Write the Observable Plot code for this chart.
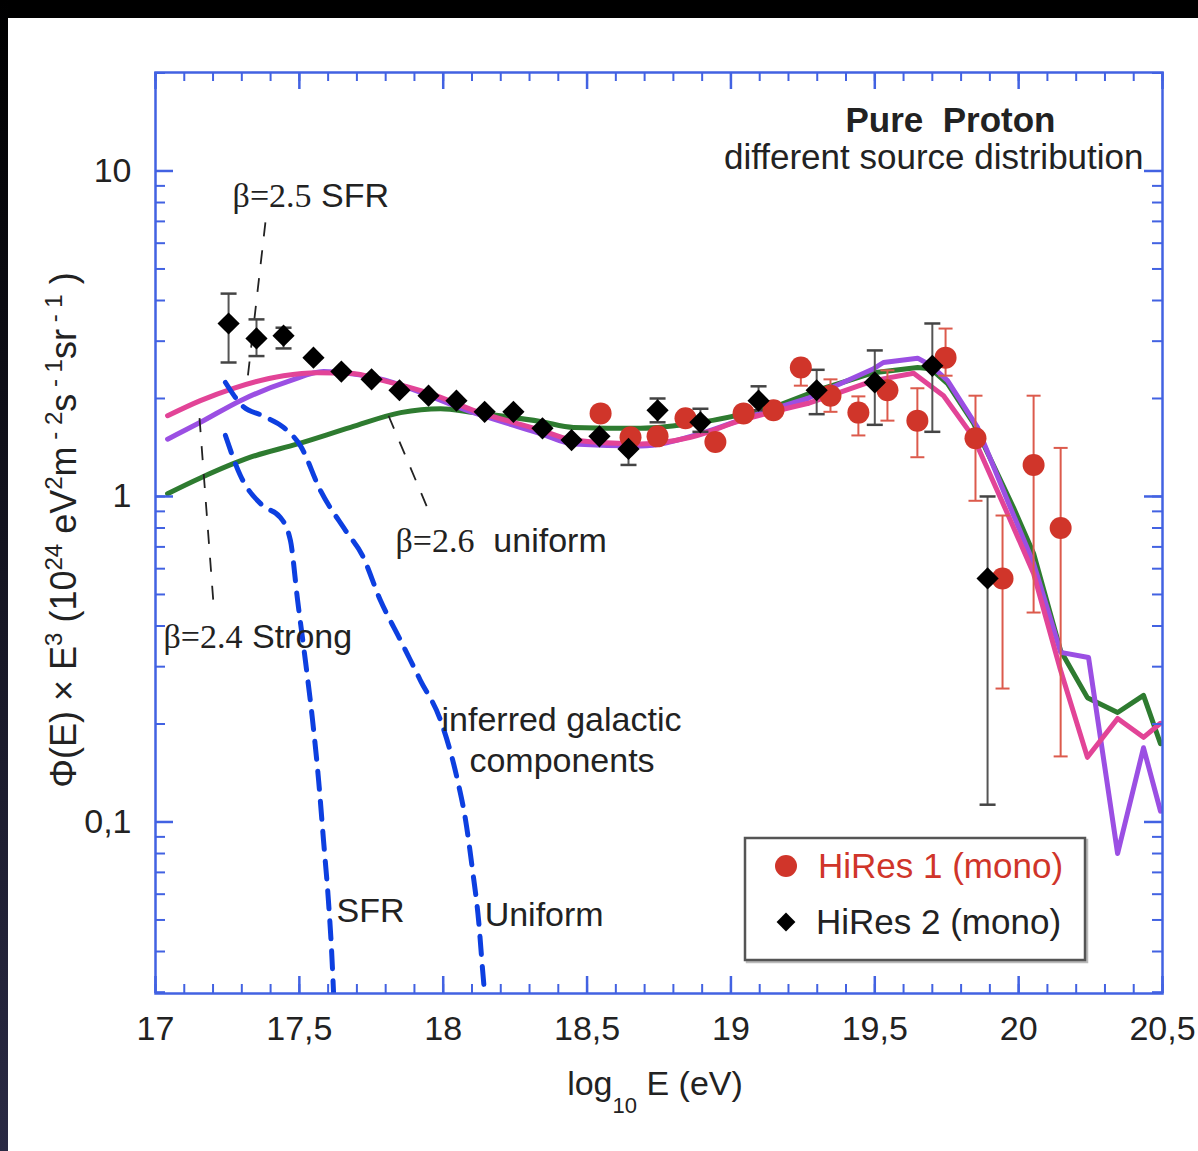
<!DOCTYPE html>
<html><head><meta charset="utf-8">
<script src="https://cdn.jsdelivr.net/npm/d3@7"></script>
<script src="https://cdn.jsdelivr.net/npm/@observablehq/plot@0.6"></script>
<style>
body{margin:0;background:#fff;width:1198px;height:1151px;overflow:hidden;position:relative;font-family:"Liberation Sans",Arial,sans-serif}
#chart{position:absolute;left:0;top:0}
#topbar{position:absolute;left:0;top:0;width:1198px;height:18px;background:#000}
#leftbar{position:absolute;left:0;top:0;width:8px;height:1151px;background:linear-gradient(#000,#2a2a44)}
</style></head><body>
<div id="chart"></div><div id="topbar"></div><div id="leftbar"></div>
<script>
// ---------- data ----------
const xTickLabels = [17, 17.5, 18, 18.5, 19, 19.5, 20, 20.5];
const yTickLabels = [0.1, 1, 10];

// HiRes 2 (mono) - black diamonds
const hires2X  = [17.254,17.351,17.445,17.549,17.646,17.751,17.848,17.949,18.046,18.144,18.244,18.345,18.446,18.543,18.644,18.745,18.894,19.096,19.298,19.500,19.700,19.892];
const hires2Y  = [3.40,3.06,3.12,2.67,2.42,2.29,2.12,2.04,1.97,1.82,1.82,1.62,1.49,1.53,1.40,1.84,1.69,1.97,2.12,2.24,2.52,0.56];
const hires2Hi = [4.20,3.50,3.30,null,null,null,null,null,null,null,null,null,null,null,1.52,2.00,1.86,2.18,2.45,2.81,3.40,1.00];
const hires2Lo = [2.58,2.70,2.85,null,null,null,null,null,null,null,null,null,null,null,1.25,1.69,1.58,1.84,1.79,1.66,1.58,0.113];

// HiRes 1 (mono) - red circles
const hires1X  = [18.547,18.651,18.745,18.842,18.946,19.044,19.148,19.243,19.346,19.443,19.544,19.648,19.746,19.850,19.944,20.052,20.146];
const hires1Y  = [1.80,1.52,1.53,1.74,1.47,1.80,1.84,2.49,2.04,1.81,2.12,1.71,2.67,1.51,0.56,1.25,0.80];
const hires1Hi = [null,null,null,null,null,null,null,2.62,2.29,2.03,2.44,2.15,3.28,2.04,0.874,2.04,1.41];
const hires1Lo = [null,null,null,null,null,null,null,2.19,1.82,1.54,1.71,1.32,2.35,0.97,0.257,0.44,0.159];

// model curves
const greenX  = [17.042,17.156,17.330,17.494,17.678,17.852,17.991,18.105,18.338,18.453,18.686,18.894,19.148,19.301,19.496,19.649,19.694,19.753,19.843,19.982,20.052,20.146,20.239,20.344,20.434,20.493];
const greenY  = [1.02,1.14,1.32,1.45,1.63,1.81,1.86,1.81,1.70,1.63,1.62,1.69,1.88,2.12,2.40,2.49,2.47,2.22,1.68,0.925,0.668,0.336,0.241,0.217,0.245,0.174];
const pinkX   = [17.042,17.156,17.271,17.445,17.563,17.678,17.792,17.956,18.105,18.338,18.453,18.686,18.860,19.033,19.266,19.496,19.635,19.739,19.843,19.961,20.052,20.146,20.239,20.344,20.434,20.493];
const pinkY   = [1.77,1.97,2.15,2.35,2.40,2.39,2.27,2.07,1.84,1.60,1.49,1.45,1.52,1.71,1.93,2.27,2.39,2.04,1.52,0.887,0.580,0.292,0.158,0.208,0.182,0.201];
const purpleX = [17.042,17.156,17.295,17.469,17.584,17.758,18.105,18.338,18.453,18.686,18.894,19.058,19.266,19.496,19.530,19.649,19.694,19.753,19.857,19.961,20.052,20.146,20.243,20.344,20.434,20.493];
const purpleY = [1.50,1.69,1.97,2.27,2.42,2.32,1.81,1.56,1.45,1.43,1.56,1.75,2.00,2.47,2.58,2.66,2.53,2.27,1.63,0.972,0.623,0.332,0.320,0.080,0.169,0.108];

// inferred galactic components (dashed)
const sfrX = [17.243,17.295,17.372,17.434,17.469,17.494,17.521,17.546,17.567,17.584,17.601,17.612,17.619];
const sfrY = [1.54,1.16,0.938,0.862,0.732,0.479,0.313,0.205,0.134,0.0877,0.0574,0.0403,0.0297];
const uniX = [17.243,17.302,17.372,17.445,17.504,17.574,17.660,17.719,17.782,17.852,17.921,17.991,18.050,18.078,18.102,18.123,18.137,18.144];
const uniY = [2.24,1.90,1.77,1.63,1.43,1.04,0.787,0.659,0.479,0.361,0.272,0.205,0.134,0.101,0.071,0.0498,0.035,0.0297];

// annotation leader lines
const leaderX1 = [17.382, 17.810, 17.153];
const leaderY1 = [6.95, 1.77, 1.74];
const leaderX2 = [17.320, 17.956, 17.202];
const leaderY2 = [2.30, 0.875, 0.463];

// annotation labels
const labelText = ["β=2.5 SFR", "β=2.6  uniform", "β=2.4 Strong", "inferred galactic", "components", "SFR", "Uniform"];
const labelX = [17.268, 17.834, 17.028, 17.994, 18.091, 17.629, 18.144];
const labelY = [8.35, 0.727, 0.371, 0.205, 0.154, 0.0531, 0.0516];

const seriesNames = ["HiRes 1 (mono)", "HiRes 2 (mono)"];

// ---------- build ----------
const W = 1198, H = 1151, ML = 155, MR = 36, MT = 72, MB = 158;
const FW = W - ML - MR, FH = H - MT - MB;
const BLUE = "#4262e2", DBLUE = "#0d3fe0", RED = "#d0352a", TXT = "#222";
const SPLIT = 19.3; // smooth below, piecewise-linear above

const zip = (xs, ys) => xs.map((x, i) => ({x, y: ys[i]}));
const pts2 = hires2X.map((x, i) => ({x, y: hires2Y[i], hi: hires2Hi[i], lo: hires2Lo[i]}));
const pts1 = hires1X.map((x, i) => ({x, y: hires1Y[i], hi: hires1Hi[i], lo: hires1Lo[i]}));
const err2 = pts2.filter(d => d.hi != null);
const err1 = pts1.filter(d => d.hi != null);
const leaders = leaderX1.map((x, i) => ({x1: x, y1: leaderY1[i], x2: leaderX2[i], y2: leaderY2[i]}));
const labels = labelText.map((t, i) => ({t, x: labelX[i], y: labelY[i]}));

function modelLine(xs, ys, color) {
  const pts = zip(xs, ys);
  const k = pts.findIndex(d => d.x > SPLIT);
  const lo = pts.slice(0, k), hi = pts.slice(k - 1);
  const o = {x: "x", y: "y", stroke: color, strokeWidth: 5, strokeLinejoin: "round", strokeLinecap: "round", clip: true};
  return [Plot.line(lo, {...o, curve: "monotone-x"}), Plot.line(hi, {...o, curve: "linear"})];
}

const xMinor = d3.range(170, 206).map(d => d / 10);
const yMinor = [];
[0.01, 0.1, 1, 10].forEach(dec => { for (let k = 1; k <= 9; k++) { const v = +(k * dec).toPrecision(3); if (v >= 0.03 && v <= 20) yMinor.push(v); } });

const cap = w => ({draw(ctx) { ctx.moveTo(-w, 0); ctx.lineTo(w, 0); }});

const svg = Plot.plot({
  width: W, height: H,
  marginLeft: ML, marginRight: MR, marginTop: MT, marginBottom: MB,
  style: {fontFamily: '"Liberation Sans", Arial, sans-serif', fontSize: "34px", background: "transparent", color: TXT},
  x: {domain: [17, 20.5]},
  y: {type: "log", domain: [0.02972, 20.07]},
  marks: [
    // model curves
    ...modelLine(greenX, greenY, "#2e7b30"),
    ...modelLine(purpleX, purpleY, "#9b4fe3"),
    ...modelLine(pinkX, pinkY, "#e24497"),
    // galactic components
    Plot.line(zip(sfrX, sfrY), {x: "x", y: "y", stroke: DBLUE, strokeWidth: 5, strokeDasharray: "18,12", curve: "monotone-x", clip: true}),
    Plot.line(zip(uniX, uniY), {x: "x", y: "y", stroke: DBLUE, strokeWidth: 5, strokeDasharray: "18,12", curve: "monotone-x", clip: true}),
    // leaders
    Plot.link(leaders, {x1: "x1", y1: "y1", x2: "x2", y2: "y2", stroke: "#222", strokeWidth: 1.8, strokeDasharray: "14,14"}),
    // labels
    Plot.text(labels, {x: "x", y: "y", text: "t", textAnchor: "start", fontSize: 34, fill: TXT}),
    Plot.text(["Pure  Proton"], {x: () => 19.763, y: () => 14.3, text: d => d, fontSize: 35, fontWeight: "bold", fill: TXT}),
    Plot.text(["different source distribution"], {x: () => 20.434, y: () => 11.0, text: d => d, fontSize: 35, textAnchor: "end", fill: TXT}),
    // error bars
    Plot.ruleX(err1, {x: "x", y1: "lo", y2: "hi", stroke: "#dc5a4c", strokeWidth: 2}),
    Plot.dot(err1, {x: "x", y: "hi", symbol: cap(7), stroke: "#dc5a4c", fill: "none", strokeWidth: 2, r: 1}),
    Plot.dot(err1, {x: "x", y: "lo", symbol: cap(7), stroke: "#dc5a4c", fill: "none", strokeWidth: 2, r: 1}),
    Plot.ruleX(err2, {x: "x", y1: "lo", y2: "hi", stroke: "#555", strokeWidth: 2}),
    Plot.dot(err2, {x: "x", y: "hi", symbol: cap(8), stroke: "#444", fill: "none", strokeWidth: 2.5, r: 1}),
    Plot.dot(err2, {x: "x", y: "lo", symbol: cap(8), stroke: "#444", fill: "none", strokeWidth: 2.5, r: 1}),
    // points
    Plot.dot(pts1, {x: "x", y: "y", r: 11, fill: RED, stroke: "none"}),
    Plot.dot(pts2, {x: "x", y: "y", r: 10, symbol: "diamond2", fill: "#000", stroke: "none"}),
    // axes labels
    Plot.axisX({ticks: xTickLabels, tickSize: 0, tickPadding: 22, fontSize: 34, fill: TXT, label: null,
      tickFormat: d => String(d).replace(".", ",")}),
    Plot.axisY({ticks: yTickLabels, tickSize: 0, tickPadding: 24, fontSize: 34, fill: TXT, label: null,
      tickFormat: d => String(d).replace(".", ",")}),
    // inward ticks
    Plot.tickX(xMinor, {x: d => d, stroke: BLUE, strokeWidth: 2, insetTop: FH - 9}),
    Plot.tickX(xMinor, {x: d => d, stroke: BLUE, strokeWidth: 2, insetBottom: FH - 9}),
    Plot.tickX(xTickLabels, {x: d => d, stroke: BLUE, strokeWidth: 2.5, insetTop: FH - 17}),
    Plot.tickX(xTickLabels, {x: d => d, stroke: BLUE, strokeWidth: 2.5, insetBottom: FH - 17}),
    Plot.tickY(yMinor, {y: d => d, stroke: BLUE, strokeWidth: 2, insetRight: FW - 10}),
    Plot.tickY(yMinor, {y: d => d, stroke: BLUE, strokeWidth: 2, insetLeft: FW - 10}),
    Plot.tickY(yTickLabels, {y: d => d, stroke: BLUE, strokeWidth: 2.5, insetRight: FW - 18}),
    Plot.tickY(yTickLabels, {y: d => d, stroke: BLUE, strokeWidth: 2.5, insetLeft: FW - 18}),
    Plot.frame({stroke: BLUE, strokeWidth: 2.5})
  ]
});
document.getElementById("chart").appendChild(svg);

const s = d3.select(svg);
// serif beta parts + preserve spaces
s.selectAll("text").each(function () {
  const t = this.textContent;
  if (t.includes("  ")) d3.select(this).attr("xml:space", "preserve").style("white-space", "pre");
  if (t.startsWith("β")) {
    const i = t.indexOf(" ");
    const el = d3.select(this).text(null).attr("xml:space", "preserve").style("white-space", "pre");
    el.append("tspan").attr("font-family", '"Liberation Serif", "Times New Roman", serif').text(t.slice(0, i));
    el.append("tspan").text(t.slice(i));
  }
});

// y-axis title
const yl = s.append("text").attr("transform", "translate(76,530) rotate(-90)")
  .attr("text-anchor", "middle").attr("font-size", 36).attr("fill", TXT).attr("dy", "0.35em")
  .attr("xml:space", "preserve").style("white-space", "pre");
const ySegs = [["Φ(E) × E", 0], ["3", 1], [" (10", 0], ["24", 1], [" eV", 0], ["2", 1], ["m", 0], [" - 2", 1], ["s", 0], [" - 1", 1], ["sr", 0], [" - 1", 1], [" )", 0]];
let prevSup = 0;
ySegs.forEach(([t, sup]) => {
  const dy = sup === prevSup ? 0 : (sup ? -14 : 14);
  yl.append("tspan").attr("dy", dy).attr("font-size", sup ? 24 : 36).text(t);
  prevSup = sup;
});

// x-axis title
const xl = s.append("text").attr("x", 655).attr("y", 1095).attr("text-anchor", "middle")
  .attr("font-size", 34).attr("fill", TXT);
xl.append("tspan").text("log");
xl.append("tspan").attr("dy", 18).attr("font-size", 22).text("10");
xl.append("tspan").attr("dy", -18).text(" E (eV)");

// legend
const lg = s.append("g").attr("text-anchor", "start");
lg.append("rect").attr("x", 747).attr("y", 840).attr("width", 340).attr("height", 122).attr("fill", "none").attr("stroke", "#bbb").attr("stroke-width", 2.5);
lg.append("rect").attr("x", 745).attr("y", 838).attr("width", 340).attr("height", 122).attr("fill", "#fff").attr("stroke", "#555").attr("stroke-width", 2.5);
lg.append("circle").attr("cx", 786).attr("cy", 866).attr("r", 11).attr("fill", RED);
lg.append("text").attr("x", 818).attr("y", 866).attr("dy", "0.35em").attr("text-anchor", "start").attr("font-size", 35).attr("fill", RED).text(seriesNames[0]);
lg.append("path").attr("d", d3.symbol(d3.symbolDiamond2, Math.PI * 72)()).attr("transform", "translate(786,922)").attr("fill", "#000");
lg.append("text").attr("x", 816).attr("y", 922).attr("dy", "0.35em").attr("text-anchor", "start").attr("font-size", 35).attr("fill", TXT).text(seriesNames[1]);
</script>
</body></html>
